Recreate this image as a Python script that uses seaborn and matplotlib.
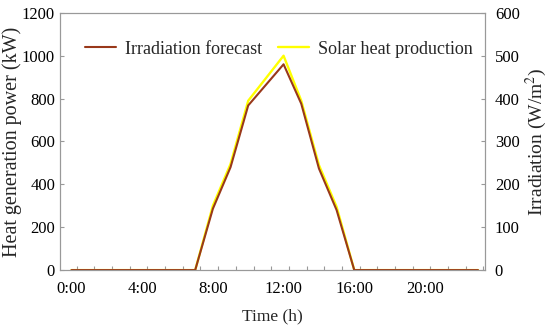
import pandas as pd
import seaborn as sns
from matplotlib import pyplot as plt
from matplotlib.lines import Line2D

hours = list(range(24))
irradiation = [0, 0, 0, 0, 0, 0, 0, 0, 143, 240, 384, 432, 480, 388, 237, 140,
               0, 0, 0, 0, 0, 0, 0, 0]
solar_heat = [0, 0, 0, 0, 0, 0, 0, 0, 300, 495, 790, 895, 1000, 790, 490, 295,
              0, 0, 0, 0, 0, 0, 0, 0]
tick_hours = [0, 4, 8, 12, 16, 20]
tick_labels = ['0:00', '4:00', '8:00', '12:00', '16:00', '20:00']

df = pd.DataFrame({'hour': hours, 'irr': irradiation, 'heat': solar_heat})

sns.set_style('white')
plt.rcParams['font.family'] = ['Liberation Serif', 'DejaVu Serif']
plt.rcParams['mathtext.fontset'] = 'stix'

brown = '#99381a'
yellow = '#ffff00'
grey = '#999999'

fig = plt.figure(figsize=(5.5, 3.29), dpi=100)
ax = fig.add_axes([0.109, 0.179, 0.773, 0.782])
ax2 = ax.twinx()

sns.lineplot(data=df, x='hour', y='heat', ax=ax, color=yellow, lw=1.7)
sns.lineplot(data=df, x='hour', y='irr', ax=ax2, color=brown, lw=1.5)

ax.set_xlim(-0.65, 23.4)
ax.set_ylim(0, 1200)
ax2.set_ylim(0, 600)
ax.set_yticks(range(0, 1201, 200))
ax2.set_yticks(range(0, 601, 100))
ax.set_xticks(tick_hours)
ax.set_xticklabels(tick_labels)
ax.set_xticks([h + 0.3 for h in hours], minor=True)

ax.set_xlabel('Time (h)', fontsize=12.5, labelpad=8)
ax.set_ylabel('Heat generation power (kW)', fontsize=14.5, labelpad=0)
ax2.set_ylabel('Irradiation (W/m$^2$)', fontsize=14, labelpad=3)

for a in (ax, ax2):
    for s in a.spines.values():
        s.set_color(grey)
        s.set_linewidth(0.8)
    a.tick_params(direction='in', colors=grey, labelcolor='black', labelsize=12,
                  length=3, width=0.8)
ax2.tick_params(axis='y', pad=7)
ax.tick_params(axis='x', which='major', length=0, pad=8)
ax.tick_params(axis='x', which='minor', direction='in', colors=grey, length=3,
               width=0.8, bottom=True)

handles = [Line2D([], [], color=brown, lw=1.5),
           Line2D([], [], color=yellow, lw=1.7)]
ax.legend(handles, ['Irradiation forecast', 'Solar heat production'],
          ncol=2, frameon=False, fontsize=13, loc='upper center',
          bbox_to_anchor=(0.515, 0.955), handlelength=1.7, handletextpad=0.5,
          columnspacing=0.9)

fig.savefig('out.png', dpi=100)
